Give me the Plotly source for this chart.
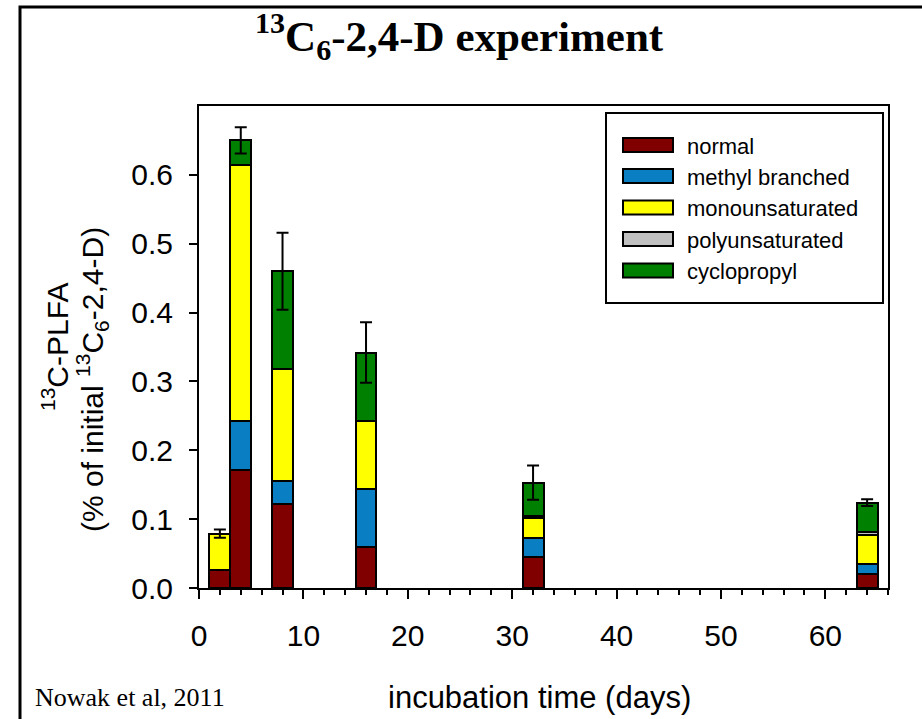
import plotly.graph_objects as go

days = [2, 4, 8, 16, 32, 64]
normal = [0.026, 0.171, 0.122, 0.060, 0.045, 0.020]
methyl_branched = [0.000, 0.071, 0.034, 0.084, 0.027, 0.015]
monounsaturated = [0.053, 0.373, 0.162, 0.099, 0.029, 0.042]
polyunsaturated = [0.000, 0.000, 0.000, 0.000, 0.004, 0.004]
cyclopropyl = [0.000, 0.035, 0.142, 0.099, 0.048, 0.043]
errors = [0.006, 0.019, 0.056, 0.044, 0.025, 0.005]

series_names = ["normal", "methyl branched", "monounsaturated", "polyunsaturated", "cyclopropyl"]
series_values = [normal, methyl_branched, monounsaturated, polyunsaturated, cyclopropyl]
series_colors = ["#800000", "#0A7EC2", "#FFFF00", "#C0C0C0", "#008000"]

y_ticks = [0.0, 0.1, 0.2, 0.3, 0.4, 0.5, 0.6]
x_ticks = [0, 10, 20, 30, 40, 50, 60]

SANS = "Liberation Sans, Arial, sans-serif"
SERIF = "Liberation Serif, Times New Roman, serif"

# plot area in screen pixels
L, R, T, B = 199, 888, 106, 588
W, H = 922, 719


def px(x):
    return (x - L) / (R - L)


def py(y):
    return (B - y) / (B - T)


fig = go.Figure()
for name, vals, col in zip(series_names, series_values, series_colors):
    fig.add_trace(go.Bar(
        x=days, y=vals, width=2, name=name,
        marker=dict(color=col, line=dict(color="black", width=2)),
        showlegend=False,
    ))

totals = [sum(v) for v in zip(*series_values)]
fig.add_trace(go.Scatter(
    x=days, y=totals, mode="markers",
    marker=dict(size=1, opacity=0),
    error_y=dict(type="data", array=errors, visible=True,
                 color="black", thickness=2, width=6),
    showlegend=False, hoverinfo="skip",
))

shapes = []
annotations = []

# outer frame
shapes.append(dict(type="rect", xref="paper", yref="paper",
                   x0=px(20), x1=px(960), y0=py(760), y1=py(7),
                   line=dict(color="black", width=3), layer="above"))

# legend box
shapes.append(dict(type="rect", xref="paper", yref="paper",
                   x0=px(606), x1=px(883), y0=py(303), y1=py(113),
                   line=dict(color="black", width=2), fillcolor="white", layer="above"))
centers = [145, 176, 207.5, 239, 270.5]
for i, (name, col) in enumerate(zip(series_names, series_colors)):
    c = centers[i]
    shapes.append(dict(type="rect", xref="paper", yref="paper",
                       x0=px(623), x1=px(673), y0=py(c + 7), y1=py(c - 7),
                       line=dict(color="black", width=2), fillcolor=col, layer="above"))
    annotations.append(dict(xref="paper", yref="paper", x=px(685), y=py(c + 1),
                            xanchor="left", yanchor="middle", showarrow=False,
                            text=name, font=dict(family=SANS, size=22, color="black")))

# y-axis title (two lines)
annotations.append(dict(xref="paper", yref="paper", x=px(55), y=py(347),
                        xanchor="center", yanchor="middle", showarrow=False, textangle=-90,
                        text="<sup>13</sup>C-PLFA", font=dict(family=SANS, size=30, color="black")))
annotations.append(dict(xref="paper", yref="paper", x=px(92), y=py(380),
                        xanchor="center", yanchor="middle", showarrow=False, textangle=-90,
                        text="(% of initial <sup>13</sup>C<sub>6</sub>-2,4-D)",
                        font=dict(family=SANS, size=30, color="black")))
# x-axis title
annotations.append(dict(xref="paper", yref="paper", x=px(539), y=py(697),
                        xanchor="center", yanchor="middle", showarrow=False,
                        text="incubation time (days)", font=dict(family=SANS, size=31, color="black")))
# citation
annotations.append(dict(xref="paper", yref="paper", x=px(33), y=py(697),
                        xanchor="left", yanchor="middle", showarrow=False,
                        text="Nowak et al, 2011", font=dict(family=SERIF, size=26, color="black")))
# title
annotations.append(dict(xref="paper", yref="paper", x=px(459), y=py(36),
                        xanchor="center", yanchor="middle", showarrow=False,
                        text="<b><sup>13</sup>C<sub>6</sub>-2,4-D experiment</b>",
                        font=dict(family=SERIF, size=43, color="black")))

fig.update_layout(
    width=W, height=H,
    margin=dict(l=L, r=W - R, t=T, b=H - B, pad=0),
    barmode="stack",
    plot_bgcolor="white", paper_bgcolor="white",
    shapes=shapes, annotations=annotations,
    showlegend=False,
)
fig.update_xaxes(
    range=[0, 66], tickvals=x_ticks, ticks="outside", ticklen=9, tickwidth=2,
    tickcolor="black", showline=True, linecolor="black", linewidth=2, mirror=True,
    showgrid=False, zeroline=False, ticklabelstandoff=11,
    tickfont=dict(family=SANS, size=30, color="black"),
    minor=dict(dtick=2, tick0=0, ticks="outside", ticklen=5, tickwidth=2, tickcolor="black", showgrid=False),
)
fig.update_yaxes(
    range=[0, 0.7], tickvals=y_ticks, tickformat=".1f", ticks="outside", ticklen=8, tickwidth=2,
    tickcolor="black", showline=True, linecolor="black", linewidth=2, mirror=True,
    showgrid=False, zeroline=False, ticklabelstandoff=10,
    tickfont=dict(family=SANS, size=30, color="black"),
)

fig.write_html("out.html", config={"displayModeBar": False},
               post_script="document.body.style.margin='0px';")
